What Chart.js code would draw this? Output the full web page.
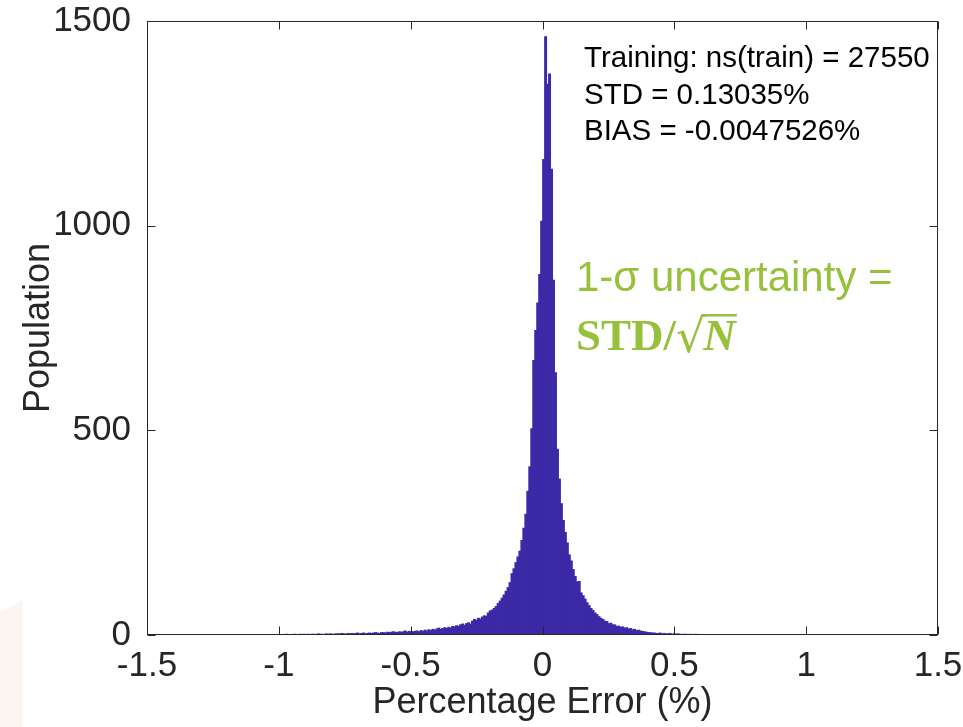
<!DOCTYPE html>
<html>
<head>
<meta charset="utf-8">
<script src="https://cdn.jsdelivr.net/npm/chart.js@4.4.1/dist/chart.umd.min.js"></script>
<style>
  html, body { margin: 0; padding: 0; background: #fff; }
  #wrap { position: relative; width: 963px; height: 727px; }
</style>
</head>
<body>
<div id="wrap"><canvas id="hist"></canvas></div>
<script>
// histogram bins: width and centre of the first core bin
const BIN_W = 0.0075;
const CORE_FIRST_CENTER = -0.49075;

// counts left of -0.5
const leftTail = [
  1,0,1,0,1,1,0,1,0,1, 1,1,0,1,0,1,1,0,1,1, 1,0,1,2,1,0,1,1,1,0,
  1,1,2,1,0,1,1,1,1,2, 0,1,1,2,1,0,1,1,2,1, 1,0,2,1,1,
  2,1,2,2,3,1,2,2,3,2,2,3,1,3,2,
  3,2,3,3,2,4,3,3,2,4,3,4,3,3,4,4,
  4,5,4,3,5,4,5,4,5,6,4,5,6,4,5,6,5,
  6,7,6,5,7,7,6,8,7,
  8,9,8,7,9,8,9,11,8,10,9
];
// counts from -0.5 to 0.5
const coreCounts = [
  9,10,11,9,12,10,13,11,14,12,
  15,13,16,18,15,17,19,17,20,18,
  22,21,24,22,26,28,25,29,31,28,
  35,39,37,42,40,45,48,47,55,60,
  62,66,71,78,84,91,99,108,117,129,
  151,163,178,192,206,232,262,296,352,412,
  505,672,745,812,882,1012,
  1163,1463,1347,1372,1139,868,642,455,382,322,
  281,252,226,197,182,161,144,131,132,104,
  97,89,80,73,66,61,55,51,46,42,
  39,35,34,29,30,26,26,22,23,20,
  21,18,19,16,17,14,15,12,13,11,
  10,9,8,7,7,6,6,5,5,6,
  4,5,4,4,5,3,4
];
// counts right of 0.5
const rightTail = [
  3,4,3,2,3,3,2,3,2,2,3,2,1,2,2,1,2,2,1,2,1,1,2,1,
  1,1,0,1,1,1,0,1,2,1,1,0,1,1,1,1,0,1,1,0,
  1,1,1,0,1,1,2,1,0,1,1,0,1,1,1,0,1,1,0,1,
  1,0,1,1,0,1,1,1,0,1,1,0,1,0,1,1,0,1,1,0,
  1,1,0,1,0,1,1,0,1,0,1,1,0,1,0,1,1,0,1,0,1
];

const xTicks = [-1.5, -1, -0.5, 0, 0.5, 1, 1.5];
const yTicks = [0, 500, 1000, 1500];
const statLines = ['Training: ns(train) = 27550', 'STD = 0.13035%', 'BIAS = -0.0047526%'];
const noteLine = '1-\u03c3 uncertainty =';

const counts = leftTail.concat(coreCounts, rightTail);
const firstCenter = CORE_FIRST_CENTER - leftTail.length * BIN_W;
const points = counts.map((n, i) => ({ x: firstCenter + i * BIN_W, y: n }));

const AX = '#262626';
const SANS = '"Liberation Sans", Arial, Helvetica, sans-serif';

const paperPlugin = {
  id: 'paper',
  beforeDraw(chart) {
    const ctx = chart.ctx;
    ctx.save();
    ctx.fillStyle = '#fdf5f0';
    ctx.beginPath();
    ctx.moveTo(0, 612);
    ctx.lineTo(22, 600);
    ctx.lineTo(22, 727);
    ctx.lineTo(0, 727);
    ctx.closePath();
    ctx.fill();
    ctx.restore();
  }
};

const framePlugin = {
  id: 'frame',
  afterDatasetsDraw(chart) {
    const { ctx, chartArea: a, scales: { x, y } } = chart;
    ctx.save();
    ctx.strokeStyle = AX;
    ctx.lineWidth = 1;
    const L = Math.round(a.left) + 0.5, R = Math.round(a.right) - 0.5;
    const T = Math.round(a.top) + 0.5, B = Math.round(a.bottom) - 0.5;
    ctx.strokeRect(L, T, R - L, B - T);
    ctx.beginPath();
    xTicks.forEach(v => {
      const px = Math.round(x.getPixelForValue(v)) + 0.5;
      ctx.moveTo(px, B); ctx.lineTo(px, B - 8);
      ctx.moveTo(px, T); ctx.lineTo(px, T + 8);
    });
    yTicks.forEach(v => {
      const py = Math.round(y.getPixelForValue(v)) + 0.5;
      ctx.moveTo(L, py); ctx.lineTo(L + 8, py);
      ctx.moveTo(R, py); ctx.lineTo(R - 8, py);
    });
    ctx.stroke();
    ctx.restore();
  },
  afterDraw(chart) {
    const ctx = chart.ctx;
    ctx.save();
    ctx.fillStyle = '#000';
    ctx.font = '29.5px ' + SANS;
    ctx.textBaseline = 'middle';
    statLines.forEach((s, i) => ctx.fillText(s, 584, 59 + i * 36.5));

    ctx.fillStyle = '#97c03c';
    ctx.font = '42px ' + SANS;
    ctx.fillText(noteLine, 576, 279);

    ctx.textBaseline = 'alphabetic';
    ctx.font = 'bold 45px "Liberation Serif", "Times New Roman", serif';
    ctx.fillText('STD/', 576, 350);
    const w = ctx.measureText('STD/').width;
    ctx.font = '46px "DejaVu Serif", serif';
    ctx.fillText('\u221a', 576 + w, 352);
    const w2 = ctx.measureText('\u221a').width;
    ctx.font = 'italic bold 45px "Liberation Serif", "Times New Roman", serif';
    const nx = 576 + w + w2 - 2;
    ctx.fillText('N', nx, 350);
    const nw = ctx.measureText('N').width;
    ctx.fillRect(nx - 2, 314, nw + 3, 2.5);
    ctx.restore();
  }
};

new Chart(document.getElementById('hist'), {
  type: 'bar',
  data: {
    datasets: [{
      data: points,
      backgroundColor: '#3c29a6',
      borderWidth: 0,
      barPercentage: 1.5,
      categoryPercentage: 1.0,
      grouped: false
    }]
  },
  options: {
    responsive: true,
    maintainAspectRatio: false,
    animation: false,
    layout: { padding: { left: 0, right: 25, top: 21, bottom: 0 } },
    plugins: { legend: { display: false }, tooltip: { enabled: false } },
    scales: {
      x: {
        type: 'linear',
        offset: false,
        min: -1.5,
        max: 1.5,
        afterBuildTicks: s => { s.ticks = xTicks.map(v => ({ value: v })); },
        afterFit: s => { s.height = 92; s.paddingLeft = 0; s.paddingRight = 0; },
        grid: { display: false, offset: false },
        border: { display: false },
        ticks: {
          callback: v => String(v),
          font: { family: SANS, size: 35 },
          color: AX,
          padding: 2,
          maxRotation: 0,
          autoSkip: false
        },
        title: {
          display: true,
          text: 'Percentage Error (%)',
          font: { family: SANS, size: 36 },
          color: AX,
          padding: { top: 0, bottom: 2 }
        }
      },
      y: {
        min: 0,
        max: 1500,
        afterBuildTicks: s => { s.ticks = yTicks.map(v => ({ value: v })); },
        afterFit: s => { s.width = 147; s.paddingTop = 0; s.paddingBottom = 0; },
        grid: { display: false },
        border: { display: false },
        ticks: {
          callback: v => String(v),
          font: { family: SANS, size: 35 },
          color: AX,
          padding: 8
        },
        title: {
          display: true,
          text: 'Population',
          font: { family: SANS, size: 36 },
          color: AX,
          padding: { top: 17, bottom: 0 }
        }
      }
    }
  },
  plugins: [paperPlugin, framePlugin]
});
</script>
</body>
</html>
